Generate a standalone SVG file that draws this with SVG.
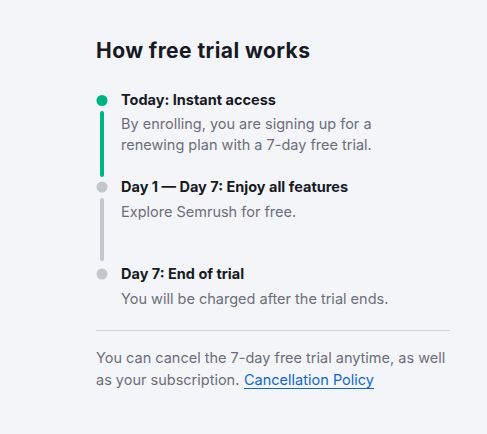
<svg xmlns="http://www.w3.org/2000/svg" width="487" height="434" viewBox="0 0 487 434">
<style>
.t{font-family:Inter,"Liberation Sans",sans-serif;font-size:14.5px;fill:#6c6e79}
.h{font-family:Inter,"Liberation Sans",sans-serif;font-size:14.5px;font-weight:700;fill:#171a22}
.title{font-family:Inter,"Liberation Sans",sans-serif;font-size:21px;font-weight:700;fill:#171a22}
.gd{fill:#c4c6cd}
</style>
<rect width="487" height="434" fill="#f4f5f9"/>
<text class="title" x="96" y="58" textLength="214" lengthAdjust="spacing">How free trial works</text>
<g id="connectors">
<rect x="100" y="111" width="4" height="66" rx="2" fill="#00b383"/>
<rect x="100" y="198" width="4" height="63" rx="2" class="gd"/>
</g>
<g id="step1">
<circle cx="102" cy="100.5" r="5.5" fill="#00b383"/>
<text class="h" x="121" y="105">Today: Instant access</text>
<text class="t" x="121" y="129">By enrolling, you are signing up for a</text>
<text class="t" x="121" y="150">renewing plan with a 7-day free trial.</text>
</g>
<g id="step2">
<circle cx="102" cy="187" r="5.5" class="gd"/>
<text class="h" x="121" y="192">Day 1 — Day 7: Enjoy all features</text>
<text class="t" x="121" y="217">Explore Semrush for free.</text>
</g>
<g id="step3">
<circle cx="102" cy="274" r="5.5" class="gd"/>
<text class="h" x="121" y="279">Day 7: End of trial</text>
<text class="t" x="121" y="304">You will be charged after the trial ends.</text>
</g>
<line x1="96" y1="330.5" x2="450" y2="330.5" stroke="#cfd1d7" stroke-width="1"/>
<g id="footer">
<text class="t" x="96" y="363">You can cancel the 7-day free trial anytime, as well</text>
<text class="t" x="96" y="385">as your subscription.</text>
<text class="t" x="244" y="385" textLength="130" lengthAdjust="spacingAndGlyphs" style="fill:#1366c9">Cancellation Policy</text>
<line x1="244" y1="388.5" x2="374" y2="388.5" stroke="#1366c9" stroke-width="1"/>
</g>
</svg>
